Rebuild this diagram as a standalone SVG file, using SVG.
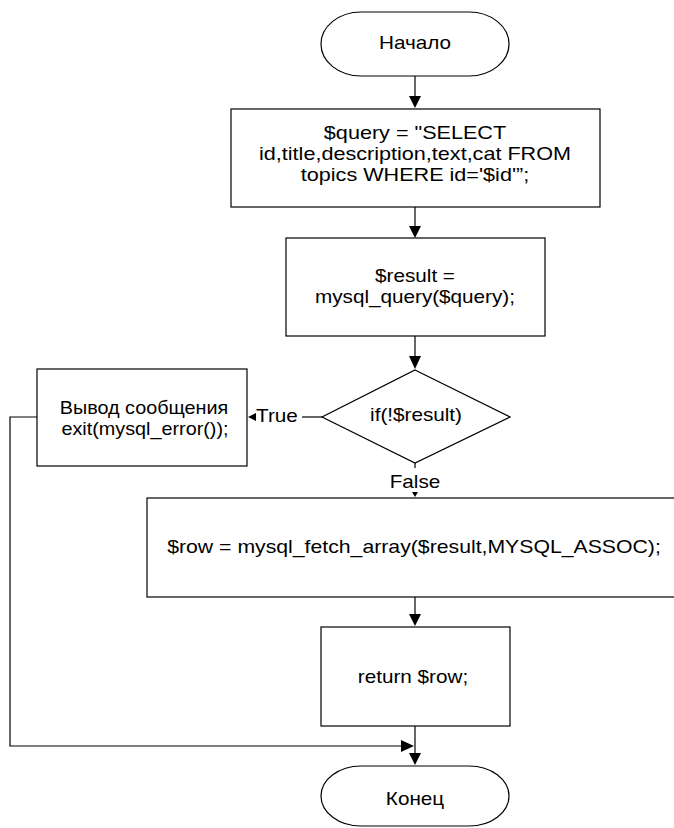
<svg xmlns="http://www.w3.org/2000/svg" width="674" height="828" viewBox="0 0 674 828">
<style>
.s{fill:#fff;stroke:#000;stroke-width:1.2}
.t{font-family:"Liberation Sans",Arial,sans-serif;font-size:18px;fill:#000;text-anchor:middle}
.c{fill:none;stroke:#000;stroke-width:1.2}
.h{fill:#000;stroke:none}
</style>
<rect width="674" height="828" fill="#fff"/>
<g id="connectors">
<line class="c" x1="415" y1="76" x2="415" y2="100"/>
<polygon class="h" points="409,96 421,96 415,108"/>
<line class="c" x1="415" y1="207" x2="415" y2="230"/>
<polygon class="h" points="409,226 421,226 415,238"/>
<line class="c" x1="415" y1="336" x2="415" y2="360"/>
<polygon class="h" points="409,356 421,356 415,369"/>
<line class="c" x1="322" y1="417" x2="302" y2="417"/>
<polygon class="h" points="256,413 256,421 248,417"/>
<text class="t" transform="translate(277,422) scale(1.15,1)">True</text>
<line class="c" x1="415" y1="463" x2="415" y2="468"/>
<text class="t" transform="translate(415,488) scale(1.15,1)">False</text>
<polygon class="h" points="412,492 418,492 415,497"/>
<line class="c" x1="415" y1="597" x2="415" y2="618"/>
<polygon class="h" points="409,614 421,614 415,626"/>
<line class="c" x1="415" y1="726" x2="415" y2="756"/>
<polygon class="h" points="409,753 421,753 415,765"/>
<polyline class="c" points="37,417 10,417 10,746 405,746"/>
<polygon class="h" points="401,740 401,752 414,746"/>
</g>
<g id="start">
<path class="s" d="M361,12 H469 A40 32 0 0 1 469,76 H361 A40 32 0 0 1 361,12 Z"/>
<text class="t" transform="translate(415,49) scale(1.15,1)">Начало</text>
</g>
<g id="query">
<rect class="s" x="231" y="109" width="369" height="98"/>
<text class="t" transform="translate(415,139) scale(1.2,1)">$query = "SELECT</text>
<text class="t" transform="translate(415,160) scale(1.2,1)">id,title,description,text,cat FROM</text>
<text class="t" transform="translate(415,181) scale(1.2,1)">topics WHERE id='$id'”;</text>
</g>
<g id="result">
<rect class="s" x="286" y="238" width="259" height="98"/>
<text class="t" transform="translate(415,282) scale(1.15,1)">$result =</text>
<text class="t" transform="translate(415,303) scale(1.15,1)">mysql_query($query);</text>
</g>
<g id="decision">
<polygon class="s" points="415,370 510,417 415,463 322,417"/>
<text class="t" transform="translate(416,421) scale(1.15,1)">if(!$result)</text>
</g>
<g id="error">
<rect class="s" x="37" y="369" width="210" height="97"/>
<text class="t" transform="translate(144,414) scale(1.1,1)">Вывод сообщения</text>
<text class="t" transform="translate(145,435) scale(1.1,1)">exit(mysql_error());</text>
</g>
<g id="fetch">
<rect class="s" x="147" y="498" width="540" height="99"/>
<text class="t" transform="translate(414,553) scale(1.18,1)">$row = mysql_fetch_array($result,MYSQL_ASSOC);</text>
</g>
<g id="return">
<rect class="s" x="321" y="627" width="189" height="99"/>
<text class="t" transform="translate(413,683) scale(1.15,1)">return $row;</text>
</g>
<g id="end">
<path class="s" d="M361,766 H469 A40 30 0 0 1 469,826 H361 A40 30 0 0 1 361,766 Z"/>
<text class="t" transform="translate(415,805) scale(1.15,1)">Конец</text>
</g>
</svg>
